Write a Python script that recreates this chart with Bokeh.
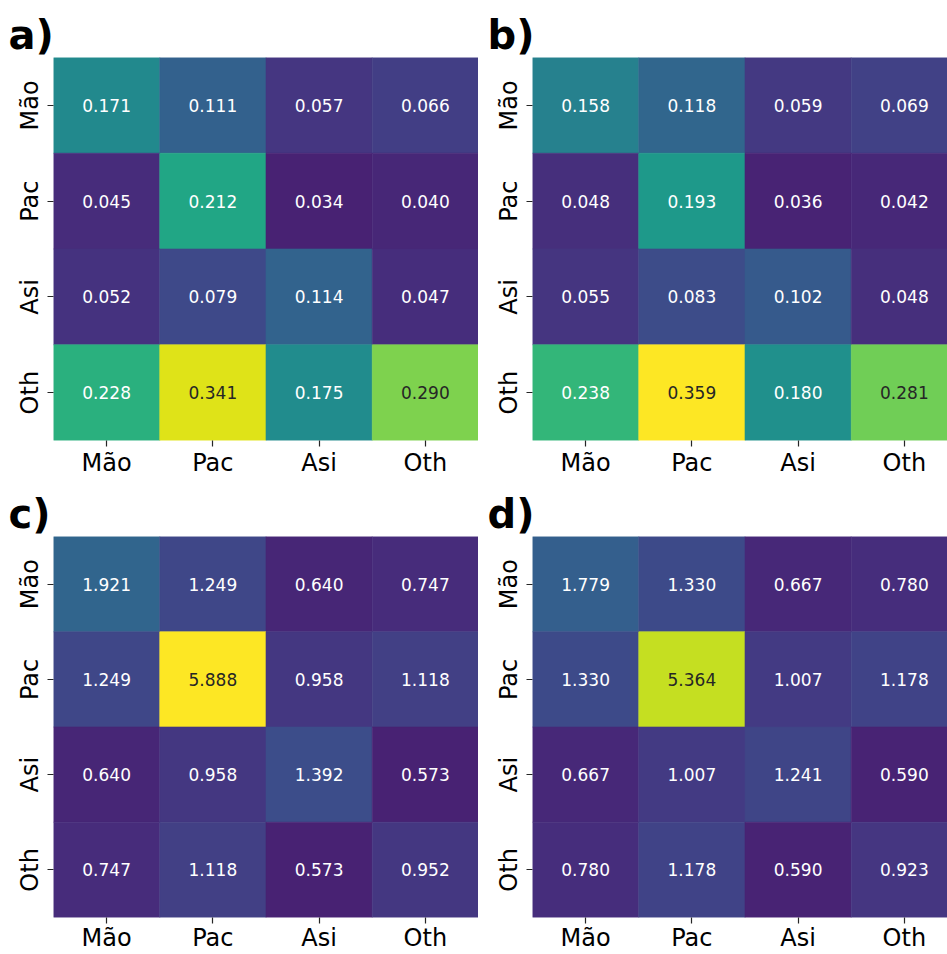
from bokeh.plotting import figure
from bokeh.models import Range1d, FixedTicker, ColumnDataSource
from bokeh.transform import linear_cmap
from bokeh.palettes import Viridis256
from bokeh.layouts import gridplot
from bokeh.embed import file_html
from bokeh.resources import INLINE
from bokeh.core.properties import value

groups = ["Mão", "Pac", "Asi", "Oth"]

panel_a = [[0.171, 0.111, 0.057, 0.066],
           [0.045, 0.212, 0.034, 0.040],
           [0.052, 0.079, 0.114, 0.047],
           [0.228, 0.341, 0.175, 0.290]]
panel_b = [[0.158, 0.118, 0.059, 0.069],
           [0.048, 0.193, 0.036, 0.042],
           [0.055, 0.083, 0.102, 0.048],
           [0.238, 0.359, 0.180, 0.281]]
panel_c = [[1.921, 1.249, 0.640, 0.747],
           [1.249, 5.888, 0.958, 1.118],
           [0.640, 0.958, 1.392, 0.573],
           [0.747, 1.118, 0.573, 0.952]]
panel_d = [[1.779, 1.330, 0.667, 0.780],
           [1.330, 5.364, 1.007, 1.178],
           [0.667, 1.007, 1.241, 0.590],
           [0.780, 1.178, 0.590, 0.923]]
tags = ["a)", "b)", "c)", "d)"]

vmax_top = max(max(r) for r in panel_a + panel_b)
vmax_bot = max(max(r) for r in panel_c + panel_d)

FONT = "DejaVu Sans"


def text_color(v, vmax):
    idx = min(int(v / vmax * 256), 255)
    h = Viridis256[idx]
    rgb = [int(h[i:i + 2], 16) / 255 for i in (1, 3, 5)]
    lin = [c / 12.92 if c <= 0.03928 else ((c + 0.055) / 1.055) ** 2.4 for c in rgb]
    lum = 0.2126 * lin[0] + 0.7152 * lin[1] + 0.0722 * lin[2]
    return "#262626" if lum > 0.408 else "#ffffff"


def panel(mat, vmax, tag, width, height, bl, bt, bb, x_end, xstand):
    xs, ys, vals, labels, tcols = [], [], [], [], []
    for i, row in enumerate(mat):
        for j, v in enumerate(row):
            xs.append(j + 0.5)
            ys.append(i + 0.5)
            vals.append(v)
            labels.append(f"{v:.3f}")
            tcols.append(text_color(v, vmax))
    src = ColumnDataSource(dict(x=xs, y=ys, v=vals, label=labels, tc=tcols))

    p = figure(width=width, height=height, x_range=Range1d(0, x_end), y_range=Range1d(4, 0),
               output_backend="svg", toolbar_location=None,
               min_border_left=bl, min_border_right=0, min_border_top=bt, min_border_bottom=bb)
    p.outline_line_color = None
    p.xgrid.visible = False
    p.ygrid.visible = False
    p.background_fill_color = "white"

    p.title.text = tag
    p.title.text_font = FONT
    p.title.text_font_size = "40px"
    p.title.text_font_style = "bold"
    p.title.text_color = "#000000"
    p.title.align = "left"
    p.title.offset = -45
    p.title.standoff = 0

    cmap = linear_cmap("v", Viridis256, 0, vmax)
    p.rect(x="x", y="y", width=1, height=1, source=src, fill_color=cmap,
           line_color=cmap, line_width=0.6)
    p.text(x="x", y="y", text="label", source=src, text_align="center",
           text_baseline="middle", text_font=value(FONT), text_font_size="17px",
           text_color="tc")

    ticks = [0.5, 1.5, 2.5, 3.5]
    overrides = {t: g for t, g in zip(ticks, groups)}
    for ax in (p.xaxis, p.yaxis):
        ax.ticker = FixedTicker(ticks=ticks)
        ax.major_label_overrides = overrides
        ax.axis_line_color = None
        ax.minor_tick_line_color = None
        ax.major_tick_in = 0
        ax.major_tick_out = 6
        ax.major_tick_line_color = "#262626"
        ax.major_tick_line_width = 1.2
        ax.major_label_text_font = FONT
        ax.major_label_text_font_size = "24px"
        ax.major_label_text_color = "#000000"
    p.xaxis.major_label_standoff = xstand
    p.xaxis.major_label_text_line_height = 1.0
    p.yaxis.major_label_standoff = 4
    p.yaxis.major_label_orientation = "vertical"
    return p


cell_w = 425 / 4
right_end = 415 / cell_w

pa = panel(panel_a, vmax_top, tags[0], 478, 487, 53, 57, 47, 4, 2)
pb = panel(panel_b, vmax_top, tags[1], 469, 487, 54, 57, 47, right_end, 2)
pc = panel(panel_c, vmax_bot, tags[2], 478, 467, 53, 49, 35, 4, 0)
pd = panel(panel_d, vmax_bot, tags[3], 469, 467, 54, 49, 35, right_end, 0)

grid = gridplot([[pa, pb], [pc, pd]], toolbar_location=None)

open("out.html", "w").write(file_html(grid, INLINE))
